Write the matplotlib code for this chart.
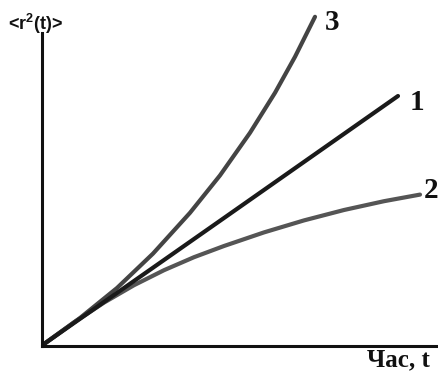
import matplotlib
matplotlib.use("Agg")
import matplotlib.pyplot as plt

# Data (arbitrary units)
t1 = [0.0, 4.4, 8.85]
r1 = [0.0, 3.08, 6.2]

t2 = [0.0, 0.75, 1.5, 2.25, 3.0, 3.75, 4.5, 5.5, 6.5, 7.5, 8.5, 9.4]
r2 = [0.0, 0.54, 1.035, 1.47, 1.845, 2.17, 2.45, 2.79, 3.09, 3.35, 3.57, 3.735]

t3 = [0.0, 0.9, 1.825, 2.725, 3.65, 4.4, 5.15, 5.775, 6.275, 6.775]
r3 = [0.0, 0.65, 1.4, 2.26, 3.28, 4.215, 5.28, 6.28, 7.18, 8.18]

curve_labels = ["1", "2", "3"]
xlabel = "Час, t"
ylabel = "<r$^{\\mathbf{2}}$(t)>"

W, H = 438, 372
fig = plt.figure(figsize=(W / 100, H / 100), dpi=100)
plt.rcParams['mathtext.fontset'] = 'custom'
plt.rcParams['mathtext.bf'] = 'Liberation Sans:bold'
plt.rcParams['mathtext.rm'] = 'Liberation Sans:bold'

ax = fig.add_axes([42 / W, 1 - 346 / H, (W - 42) / W, (346 - 33) / H])
ax.set_xlim(-0.05, 9.85)
ax.set_ylim(-0.05, 7.775)

ax.plot(t2, r2, color="#555555", lw=3.0, solid_capstyle="round", solid_joinstyle="round", clip_on=False)
ax.plot(t3, r3, color="#444444", lw=3.0, solid_capstyle="round", solid_joinstyle="round", clip_on=False)
ax.plot(t1, r1, color="#1a1a1a", lw=3.0, solid_capstyle="round", clip_on=False)

for s in ["top", "right"]:
    ax.spines[s].set_visible(False)
for s in ["left", "bottom"]:
    ax.spines[s].set_linewidth(2.2)
    ax.spines[s].set_color("#111111")
ax.set_xticks([])
ax.set_yticks([])
ax.patch.set_alpha(0)

serif = dict(family="Liberation Serif", fontweight="bold", color="#111111")
fig.text(332 / W, 1 - 23 / H, curve_labels[2], fontsize=21, ha="center", va="center", **serif)
fig.text(417 / W, 1 - 102 / H, curve_labels[0], fontsize=21, ha="center", va="center", **serif)
fig.text(424 / W, 1 - 191 / H, curve_labels[1], fontsize=21, ha="left", va="center", **serif)

fig.text(430 / W, 1 - 371 / H, xlabel, fontsize=18, ha="right", va="bottom", **serif)
fig.text(8 / W, 1 - 30 / H, ylabel, fontsize=13, ha="left", va="baseline",
         family="Liberation Sans", fontweight="bold", color="#111111")

fig.savefig("out.png", dpi=100)
